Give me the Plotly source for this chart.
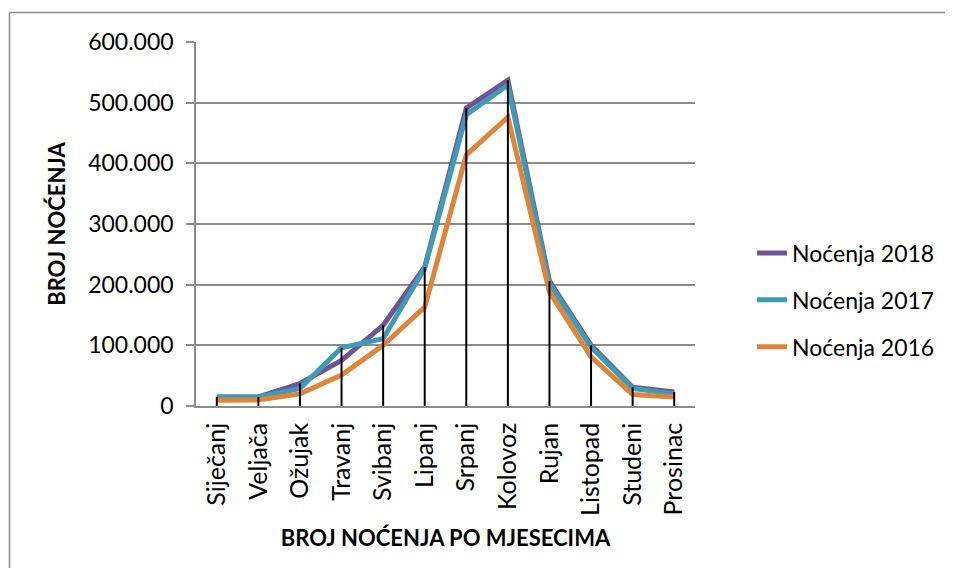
import plotly.graph_objects as go

months = ["Siječanj", "Veljača", "Ožujak", "Travanj", "Svibanj", "Lipanj",
          "Srpanj", "Kolovoz", "Rujan", "Listopad", "Studeni", "Prosinac"]
nocenja_2018 = [15000, 15000, 37000, 75000, 133000, 229000, 491000, 537000, 206000, 100000, 31000, 23000]
nocenja_2017 = [15000, 15000, 29000, 96000, 111000, 227000, 480000, 529000, 202000, 97000, 29000, 20000]
nocenja_2016 = [9500, 10000, 20000, 51000, 100000, 163000, 414000, 476000, 188000, 81000, 19000, 15000]
y_ticks = [0, 100000, 200000, 300000, 400000, 500000, 600000]
y_tick_labels = ["0", "100.000", "200.000", "300.000", "400.000", "500.000", "600.000"]

series = [
    ("Noćenja 2018", nocenja_2018, "#6F5597"),
    ("Noćenja 2017", nocenja_2017, "#3F9AB3"),
    ("Noćenja 2016", nocenja_2016, "#E0843A"),
]

FONT = "Lato"
fig = go.Figure()
for i, (name, vals, col) in enumerate(series):
    fig.add_trace(go.Scatter(
        x=months, y=vals, name=name, mode="lines",
        line=dict(color=col, width=5),
        legendgroup=f"g{i}",
    ))

# drop lines from the highest series value down to the axis
drop_x, drop_y = [], []
for m, a, b, c in zip(months, nocenja_2018, nocenja_2017, nocenja_2016):
    drop_x += [m, m, None]
    drop_y += [0, max(a, b, c), None]
fig.add_trace(go.Scatter(x=drop_x, y=drop_y, mode="lines",
                         line=dict(color="black", width=2),
                         showlegend=False, hoverinfo="skip"))

OFF = 8  # page body margin
W, H = 941, 562
L, T = 196 - OFF, 42 - OFF
pw, ph = 499, 364
R = W - L - pw
B = H - T - ph

def px(x):  # page x -> paper x
    return (x - OFF - L) / pw

def py(y):  # page y -> paper y
    return (T + ph - (y - OFF)) / ph

fig.update_layout(
    width=W, height=H,
    margin=dict(l=L, r=R, t=T, b=B, autoexpand=False),
    paper_bgcolor="white", plot_bgcolor="white",
    font=dict(family=FONT, size=22, color="black"),
    showlegend=True,
    legend=dict(x=px(752), y=py(300), xanchor="left", yanchor="middle",
                font=dict(family=FONT, size=23, color="black"),
                traceorder="grouped", tracegroupgap=14,
                borderwidth=0, bgcolor="rgba(0,0,0,0)"),
    xaxis=dict(
        type="category", range=[-0.5, 11.5],
        tickangle=-90, showgrid=False, ticks="",
        showline=True, linecolor="#8c8c8c", linewidth=1.5,
        ticklabelstandoff=5, automargin=False,
        tickfont=dict(family=FONT, size=25, color="black"),
        title=dict(text="<b>BROJ NOĆENJA PO MJESECIMA</b>", standoff=16,
                   font=dict(family=FONT, size=22, color="black")),
    ),
    yaxis=dict(
        range=[0, 600000], tickvals=y_ticks, ticktext=y_tick_labels,
        showgrid=True, gridcolor="#8c8c8c", gridwidth=1.5,
        showline=True, linecolor="#8c8c8c", linewidth=1.5,
        ticks="outside", ticklen=8, tickcolor="#8c8c8c", tickwidth=1.5,
        ticklabelstandoff=8, automargin=False,
        zeroline=False,
        tickfont=dict(family=FONT, size=23, color="black"),
        title=dict(text="<b>BROJ NOĆENJA</b>", standoff=16,
                   font=dict(family=FONT, size=22, color="black")),
    ),
    shapes=[
        dict(type="line", xref="paper", yref="paper", x0=px(9.5), x1=px(OFF + W - 4),
             y0=py(12.5), y1=py(12.5), line=dict(color="#8c8c8c", width=1.5)),
        dict(type="line", xref="paper", yref="paper", x0=px(9.5), x1=px(9.5),
             y0=py(12.5), y1=py(OFF + H - 2), line=dict(color="#8c8c8c", width=1.5)),
    ],
)

fig.write_html("out.html")
